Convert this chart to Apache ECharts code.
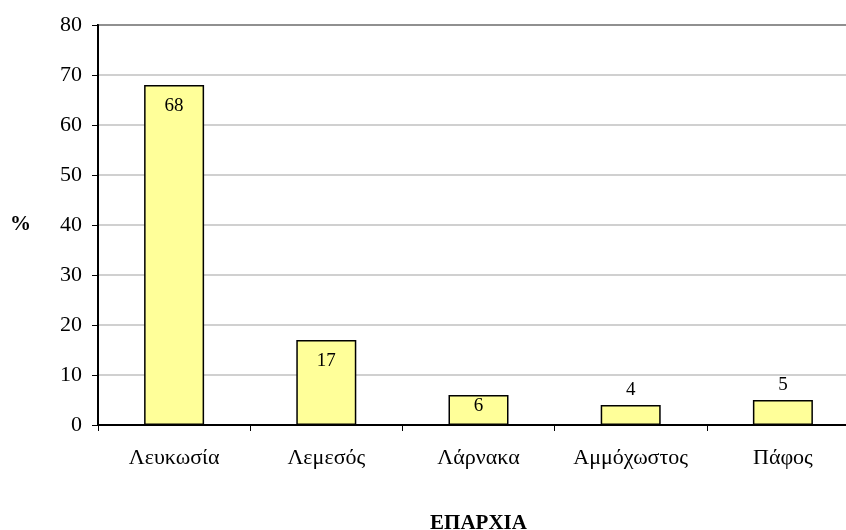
<!DOCTYPE html>
<html><head><meta charset="utf-8">
<script src="https://cdn.jsdelivr.net/npm/echarts@6/dist/echarts.min.js"></script>
<style>html,body{margin:0;padding:0;background:#fff}#c{width:846px;height:530px}</style>
</head><body><div id="c"></div>
<script>
const categories = ['Λευκωσία','Λεμεσός','Λάρνακα','Αμμόχωστος','Πάφος'];
const values = [68, 17, 6, 4, 5];
const labelPos = ['insideTop','insideTop','insideTop','top','top'];
const labelDist = [12, 12, 2, 5, 5];
const yTicks = {min:0, max:80, interval:10};

const chart = echarts.init(document.getElementById('c'));
const font = '"Liberation Serif", "Times New Roman", serif';
chart.setOption({
  animation:false,
  grid:{left:98, top:25, width:761, height:400, outerBoundsMode:'none', containLabel:false,
    show:true, borderColor:'#000', borderWidth:2, backgroundColor:'transparent'},
  xAxis:{type:'category', data:categories, boundaryGap:true,
    axisLine:{lineStyle:{color:'#000', width:2}},
    axisTick:{show:true, length:6, lineStyle:{color:'#000', width:1}},
    axisLabel:{color:'#000', fontFamily:font, fontSize:22, margin:22},
    name:'ΕΠΑΡΧΙΑ', nameLocation:'middle', nameGap:88,
    nameTextStyle:{color:'#000', fontFamily:font, fontSize:21, fontWeight:'bold'}
  },
  yAxis:{type:'value', min:yTicks.min, max:yTicks.max, interval:yTicks.interval,
    axisLine:{show:true, lineStyle:{color:'#000', width:2}},
    axisTick:{show:true, length:6, lineStyle:{color:'#000', width:1}},
    axisLabel:{color:'#000', fontFamily:font, fontSize:22, margin:16},
    splitLine:{lineStyle:{color:'#c0c0c0', width:1.5}},
    name:'%', nameLocation:'middle', nameGap:67, nameRotate:0,
    nameTextStyle:{color:'#000', fontFamily:font, fontSize:21, fontWeight:'bold'}
  },
  series:[{type:'bar', barWidth:60,
    data: values.map((v,i)=>({value:v, label:{position:labelPos[i], distance:labelDist[i]}})),
    itemStyle:{color:'#ffff99', borderColor:'#000', borderWidth:1.5},
    label:{show:true, color:'#000', fontFamily:font, fontSize:19}
  }]
});
</script></body></html>
